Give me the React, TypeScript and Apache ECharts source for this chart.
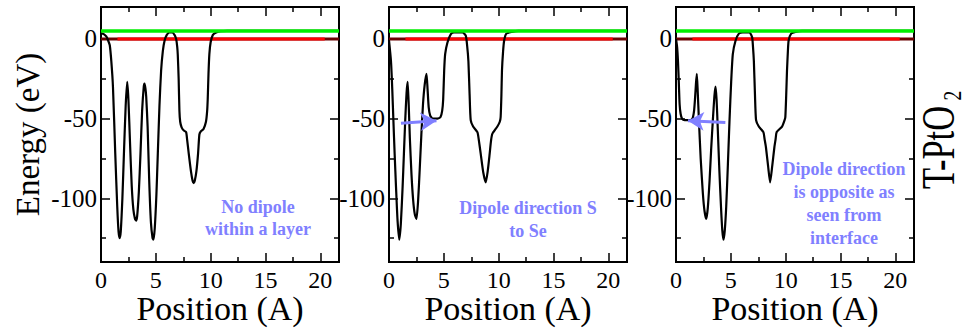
import React, { useEffect, useRef } from 'react';
import * as echarts from 'echarts';

// ---------- data ----------
const posX1 = [0, 0.25, 0.48, 0.65, 0.8, 0.94, 1.09, 1.3, 1.48, 1.6, 1.7, 1.8, 1.95, 2.1, 2.25, 2.39, 2.5, 2.65, 2.8, 2.95, 3.1, 3.2, 3.3, 3.45, 3.6, 3.75, 3.9, 3.97, 4.05, 4.12, 4.25, 4.4, 4.55, 4.7, 4.78, 4.9, 5.05, 5.18, 5.33, 5.48, 5.64, 5.8, 6.0, 6.24, 6.5, 6.7, 6.85, 6.95, 7.0, 7.08, 7.15, 7.22, 7.35, 7.55, 7.76, 7.85, 8.0, 8.2, 8.35, 8.45, 8.55, 8.7, 8.85, 8.97, 9.1, 9.35, 9.57, 9.67, 9.73, 9.8, 9.88, 10.0, 10.2, 10.5, 10.9, 11.5, 21.7];
const energy1 = [3.5, 3, 1.5, -1, -4, -14, -30, -72, -105, -121, -125, -121, -100, -70, -42, -27, -38, -66, -92, -107, -113, -114, -111, -96, -72, -45, -30, -28, -31, -36, -55, -90, -115, -125, -126, -119, -98, -72, -42, -20, -7.5, -1, 2.5, 4, 4, 2.5, 0, -5, -10, -25, -45, -52, -55.5, -57.5, -58.5, -63, -72, -83, -89, -90.5, -89, -83, -72, -60, -58, -56.5, -52, -46, -38, -22, -9.6, -2, 2.5, 4, 4.8, 5, 5];

const posX2 = [0, 0.18, 0.3, 0.4, 0.52, 0.64, 0.78, 0.94, 1.08, 1.24, 1.36, 1.48, 1.6, 1.7, 1.8, 1.9, 2.05, 2.2, 2.35, 2.5, 2.65, 2.8, 2.95, 3.1, 3.25, 3.42, 3.52, 3.62, 3.75, 3.97, 4.4, 4.7, 4.85, 4.94, 5.03, 5.12, 5.33, 5.64, 5.94, 6.7, 7.0, 7.12, 7.24, 7.35, 7.45, 7.67, 8.06, 8.2, 8.36, 8.6, 8.82, 9.0, 9.18, 9.3, 9.42, 9.88, 10.1, 10.18, 10.25, 10.3, 10.4, 10.5, 10.7, 11.2, 11.8, 21.7];
const energy2 = [-1, -14, -32, -51, -73, -93, -114, -126, -116, -93, -72, -51, -34, -27, -42, -62, -85, -101, -110, -113, -102, -82, -60, -41, -29, -22, -32, -43, -48, -50, -50, -49, -45, -38, -20, -9.6, -2.3, 3, 4, 4, 2, -4, -14, -35, -51, -55, -58.5, -64, -72, -84, -90, -83, -72, -64, -59.6, -55, -52, -49, -35, -20, -8, -1, 3.3, 4.4, 5, 5];

const posX3 = [0, 0.1, 0.18, 0.26, 0.33, 0.42, 0.55, 0.79, 1.24, 1.45, 1.55, 1.65, 1.73, 1.82, 1.9, 1.98, 2.09, 2.25, 2.45, 2.6, 2.76, 2.9, 3.06, 3.2, 3.36, 3.5, 3.6, 3.7, 3.8, 3.95, 4.1, 4.22, 4.33, 4.45, 4.58, 4.73, 4.88, 5.03, 5.18, 5.42, 5.73, 6.1, 6.7, 6.94, 7.02, 7.1, 7.2, 7.3, 7.55, 7.97, 8.08, 8.2, 8.4, 8.58, 8.77, 8.97, 9.08, 9.18, 9.67, 9.9, 9.97, 10.05, 10.12, 10.2, 10.27, 10.5, 10.9, 11.5, 21.7];
const energy3 = [0, -5, -14, -28, -41, -47, -50, -51, -51, -50.5, -49, -45, -38, -28, -22, -33, -51, -75, -97, -108, -113, -106, -89, -70, -51, -36, -30, -38, -55, -82, -105, -120, -126, -120, -105, -79, -51, -27, -9.6, -1.3, 3.3, 4, 4, 1, -5, -14, -35, -51, -55, -58.5, -63, -68, -80, -90, -80, -68, -63, -58.5, -55, -51, -49, -35, -20, -8, -1, 3.3, 4.4, 5, 5];

const vacuumLevel = 5;
const fermiLevel = 0;
const fermiRedSpan = [1.5, 20.4];
const xMin = 0;
const xMax = 21.7;
const yMin = -140;
const yMax = 20;
const xTickValues = [0, 5, 10, 15, 20];
const xMinorTickValues = [2.5, 7.5, 12.5, 17.5];
const yTickValues = [-100, -50, 0];
const yMinorTickValues = [-125, -75, -25];

// dipole arrows: [x, y] of tail and tip (data units)
const arrow2Tail = [1.09, -52.9];
const arrow2Head = [4.33, -51.3];
const arrow3Tail = [4.5, -52.4];
const arrow3Head = [1.09, -51.3];

const notes = [
  'No dipole\nwithin a layer',
  'Dipole direction S\nto Se',
  'Dipole direction\nis opposite as\nseen from\ninterface',
];

const FONT = 'Liberation Serif';
const NOTE_COLOR = '#8080ff';

function zip(xs: number[], ys: number[]) {
  return xs.map((x, i) => [x, ys[i]]);
}

export default function App() {
  const ref = useRef<HTMLDivElement>(null);
  useEffect(() => {
    if (!ref.current) return;
    const chart = echarts.init(ref.current, undefined, { renderer: 'svg' });

    const lefts = [101, 389, 676];
    const W = 238;
    const TOP = 7;
    const H = 255;
    const tickStyle = { color: '#000', width: 1.5 };
    const grid: any[] = [];
    const xAxis: any[] = [];
    const yAxis: any[] = [];
    const series: any[] = [];
    const curves = [zip(posX1, energy1), zip(posX2, energy2), zip(posX3, energy3)];
    const arrows = [null, [arrow2Tail, arrow2Head], [arrow3Tail, arrow3Head]];

    for (let i = 0; i < 3; i++) {
      grid.push({
        left: lefts[i], top: TOP, width: W, height: H, show: true,
        borderColor: '#000', borderWidth: 2, backgroundColor: 'transparent',
        containLabel: false, outerBoundsMode: 'none',
      });
      const bx = { type: 'value', gridIndex: i, min: xMin, max: xMax, splitLine: { show: false }, axisLine: { show: false, onZero: false } };
      xAxis.push({
        ...bx, position: 'bottom',
        axisTick: { show: true, inside: true, length: 9, lineStyle: tickStyle, customValues: xTickValues },
        axisLabel: { show: true, customValues: xTickValues, fontSize: 24, lineHeight: 18, fontFamily: FONT, color: '#000', margin: 9 },
        name: 'Position (A)', nameLocation: 'middle', nameGap: 33, nameMoveOverlap: false,
        nameTextStyle: { fontSize: 34, lineHeight: 26, fontFamily: FONT, color: '#000' },
      });
      xAxis.push({ ...bx, position: 'bottom', axisTick: { show: true, inside: true, length: 5, lineStyle: tickStyle, customValues: xMinorTickValues }, axisLabel: { show: false } });
      xAxis.push({ ...bx, position: 'top', axisTick: { show: true, inside: true, length: 9, lineStyle: tickStyle, customValues: xTickValues }, axisLabel: { show: false } });
      xAxis.push({ ...bx, position: 'top', axisTick: { show: true, inside: true, length: 5, lineStyle: tickStyle, customValues: xMinorTickValues }, axisLabel: { show: false } });

      const by = { type: 'value', gridIndex: i, min: yMin, max: yMax, splitLine: { show: false }, axisLine: { show: false, onZero: false } };
      const leftMain: any = {
        ...by, position: 'left',
        axisTick: { show: true, inside: true, length: 9, lineStyle: tickStyle, customValues: yTickValues },
        axisLabel: { show: true, customValues: yTickValues, fontSize: 25, fontFamily: FONT, color: '#000', margin: 4 },
      };
      if (i === 0) {
        leftMain.name = 'Energy (eV)';
        leftMain.nameLocation = 'middle';
        leftMain.nameRotate = 90;
        leftMain.nameGap = 57;
        leftMain.nameMoveOverlap = false;
        leftMain.nameTextStyle = { fontSize: 33, fontFamily: FONT, color: '#000' };
      }
      yAxis.push(leftMain);
      yAxis.push({ ...by, position: 'left', axisTick: { show: true, inside: true, length: 5, lineStyle: tickStyle, customValues: yMinorTickValues }, axisLabel: { show: false } });
      yAxis.push({ ...by, position: 'right', axisTick: { show: true, inside: true, length: 9, lineStyle: tickStyle, customValues: yTickValues }, axisLabel: { show: false } });
      yAxis.push({ ...by, position: 'right', axisTick: { show: true, inside: true, length: 5, lineStyle: tickStyle, customValues: yMinorTickValues }, axisLabel: { show: false } });

      const xi = i * 4;
      const yi = i * 4;
      series.push({
        type: 'line', xAxisIndex: xi, yAxisIndex: yi, symbol: 'none', silent: true, z: 2,
        data: [[xMin, fermiLevel], [xMax, fermiLevel]],
        lineStyle: { color: '#6a0000', width: 3 },
      });
      series.push({
        type: 'line', xAxisIndex: xi, yAxisIndex: yi, symbol: 'none', silent: true, z: 3,
        data: [[fermiRedSpan[0], fermiLevel], [fermiRedSpan[1], fermiLevel]],
        lineStyle: { color: '#ff0000', width: 3 },
      });
      const s: any = {
        type: 'line', xAxisIndex: xi, yAxisIndex: yi, symbol: 'none', silent: true, z: 4,
        data: curves[i], smooth: 0.2,
        lineStyle: { color: '#000', width: 2.2 },
      };
      const a = arrows[i];
      if (a) {
        s.markLine = {
          silent: true, animation: false,
          symbol: ['none', 'arrow'], symbolSize: [14, 16],
          label: { show: false },
          lineStyle: { color: NOTE_COLOR, width: 3, type: 'solid' },
          data: [[{ coord: a[0] }, { coord: a[1] }]],
        };
      }
      series.push(s);
      series.push({
        type: 'line', xAxisIndex: xi, yAxisIndex: yi, symbol: 'none', silent: true, z: 5,
        data: [[xMin, vacuumLevel], [xMax, vacuumLevel]],
        lineStyle: { color: '#00ee00', width: 3.5 },
      });
    }

    const noteStyle = { fill: NOTE_COLOR, fontFamily: FONT, fontWeight: 'bold', fontSize: 18, align: 'center', verticalAlign: 'middle', lineHeight: 23 };
    const graphic: any[] = [
      { type: 'text', x: 258, y: 218, z: 10, style: { ...noteStyle, text: notes[0], lineHeight: 22 } },
      { type: 'text', x: 528, y: 219, z: 10, style: { ...noteStyle, text: notes[1] } },
      { type: 'text', x: 844, y: 203, z: 10, style: { ...noteStyle, text: notes[2] } },
      {
        type: 'group', x: 939, y: 138, rotation: Math.PI / 2, scaleX: 0.75,
        children: [
          { type: 'text', x: -68, y: 0, style: { text: 'T-PtO', fill: '#000', fontFamily: FONT, fontSize: 46, align: 'left', verticalAlign: 'middle' } },
          { type: 'text', x: 50, y: 14, style: { text: '2', fill: '#000', fontFamily: FONT, fontSize: 26, align: 'left', verticalAlign: 'middle' } },
        ],
      },
    ];

    chart.setOption({
      animation: false,
      backgroundColor: '#fff',
      grid, xAxis, yAxis, series, graphic,
    });
    return () => chart.dispose();
  }, []);
  return <div ref={ref} style={{ position: 'absolute', left: 0, top: 0, width: 967, height: 331 }} />;
}
